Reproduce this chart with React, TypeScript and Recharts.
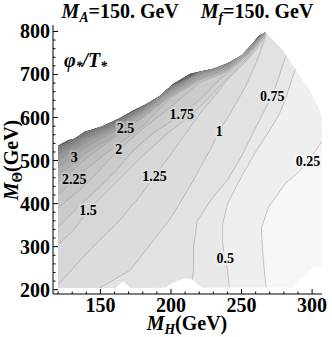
import React from 'react';
import { ScatterChart, Scatter, XAxis, YAxis } from 'recharts';

type Pt = [number, number]; // [M_H, M_Theta] in GeV

const xTicks = [120, 130, 140, 150, 160, 170, 180, 190, 200, 210, 220, 230, 240, 250, 260, 270, 280, 290, 300];
const yTicks = [200, 220, 240, 260, 280, 300, 320, 340, 360, 380, 400, 420, 440, 460, 480, 500, 520, 540, 560, 580, 600, 620, 640, 660, 680, 700, 720, 740, 760, 780, 800];

// outline of the scanned parameter region
const regionOutline: Pt[] = [
  [120, 204], [161, 204], [163, 212], [166, 219], [169, 212], [171, 204], [196, 205], [200, 214], [205, 222],
  [210, 227], [215, 224], [219, 212], [222, 205], [286, 205], [289, 213], [294, 232], [299, 247], [303, 253],
  [307, 256], [307, 590], [305.5, 615], [298.3, 662], [288.6, 710], [279, 757], [266.8, 798], [262, 789],
  [257.2, 769], [250, 745], [240.2, 726], [230.6, 714], [213.7, 702], [201.6, 678], [192, 650], [182.3, 631],
  [172.6, 615], [163, 597], [151, 579], [139, 567], [131.5, 551], [127, 547], [121, 536], [120, 534],
];

// contour lines of phi*/T*
const c025: Pt[] = [[268, 185], [266, 250], [265, 288], [264, 343], [269, 391], [281, 447], [291, 475], [297, 499], [303, 525], [312, 570]];
const c050: Pt[] = [[242, 185], [240, 248], [238, 272], [236.6, 312], [236.6, 351], [240, 399], [250, 463], [259.6, 518], [269, 566], [276.5, 606], [281.4, 645], [286, 693], [291, 735]];
const c075: Pt[] = [[213.7, 185], [216, 248], [216, 296], [218.5, 359], [228, 407], [240, 455], [250, 510], [259.6, 574], [266, 615], [271.7, 650], [276, 690], [280, 730], [285, 775]];
const c100: Pt[] = [[142, 185], [150, 205], [171, 245], [187, 312], [201.6, 375], [216, 455], [228, 527], [234.2, 568], [242.7, 614], [252.4, 669], [258, 710], [262, 740], [265, 770], [268, 800]];
const c125: Pt[] = [[113, 190], [120, 212], [126.4, 235], [143.6, 296], [163, 359], [177.5, 415], [188.3, 464], [199, 510], [211, 566], [222, 615], [232, 655], [242, 695], [250, 720], [258, 748], [265, 780], [268, 802]];
const c150: Pt[] = [[115, 290], [130, 335], [141.2, 383], [152, 420], [163, 455], [175, 495], [185, 526], [198, 565], [214.9, 607], [228, 650], [240, 692], [255, 741], [265, 785], [268, 803]];
const c175: Pt[] = [[115, 330], [120, 345], [135, 395], [150, 440], [162, 480], [174, 526], [188, 565], [200, 591], [207.6, 607], [220, 640], [235, 690], [240, 702], [255, 746], [265, 787], [268, 804]];
const c200: Pt[] = [[115, 377], [120, 390], [140, 445], [150, 480], [163, 526], [180, 574], [200, 625], [220, 681], [240, 707], [255, 749], [265, 789], [268, 805]];
const c225: Pt[] = [[115, 412], [120, 420], [131.5, 455], [140, 480], [160, 532], [180, 580], [200, 647], [220, 686], [240, 710], [255, 751], [265, 790], [268, 805]];
const c250: Pt[] = [[115, 435], [120, 448], [140, 505], [160, 554], [167.8, 574], [180, 600], [200, 651], [220, 689], [240, 712], [255, 752], [265, 791], [268, 806]];
const c275: Pt[] = [[115, 452], [120, 464], [140, 518], [160, 558], [180, 601], [200, 653], [220, 691], [240, 713.5], [255, 753.5], [265, 791.5], [268, 806]];
const c300: Pt[] = [[115, 473], [120, 484], [131.5, 507], [140, 532], [160, 567], [180, 607], [200, 657], [220, 694], [240, 716], [255, 755], [265, 792], [268, 806]];
const c325: Pt[] = [[115, 490], [120, 500], [140, 542], [160, 573], [180, 612], [200, 661], [220, 697], [240, 718], [255, 756.5], [265, 792.5], [268, 806]];
const c350: Pt[] = [[115, 503], [120, 512], [140, 550], [160, 578], [180, 616], [200, 664], [220, 699.5], [240, 720], [255, 758], [265, 793], [268, 806]];
const c375: Pt[] = [[115, 512], [120, 520], [140, 556], [160, 582], [180, 619], [200, 666.5], [220, 701.5], [240, 721.5], [255, 759], [265, 793.5], [268, 806]];
const c400: Pt[] = [[115, 519], [120, 526], [140, 561], [160, 586], [180, 622], [200, 669], [220, 703.5], [240, 723], [255, 760], [265, 794], [268, 806]];
const c450: Pt[] = [[115, 525], [120, 531], [140, 565], [160, 589.5], [180, 625], [200, 671], [220, 705.5], [240, 724.5], [255, 761], [265, 794.5], [268, 806]];

const levels = [0.25, 0.5, 0.75, 1, 1.25, 1.5, 1.75, 2, 2.25, 2.5, 2.75, 3, 3.25, 3.5, 3.75, 4, 4.5];
const levelLines = [c025, c050, c075, c100, c125, c150, c175, c200, c225, c250, c275, c300, c325, c350, c375, c400, c450];

// [level, M_H, M_Theta]
const contourLabels: [number, number, number][] = [
  [0.25, 297, 499], [0.5, 238.5, 272], [0.75, 271.7, 650], [1, 234.2, 568], [1.25, 188.3, 464], [1.5, 141.2, 383],
  [1.75, 207.6, 607], [2, 163, 526], [2.25, 131.5, 455], [2.5, 167.8, 574], [3, 131.5, 507],
];

const BASE_SHADE = '#f6f6f6';
const shades = ['#efefef', '#e8e8e8', '#e2e2e2', '#dcdcdc', '#d7d7d7', '#d1d1d1', '#cbcbcb', '#c5c5c5', '#bebebe', '#b6b6b6', '#adadad', '#a3a3a3', '#979797', '#8a8a8a', '#7c7c7c', '#6e6e6e', '#606060'];

const X_DOMAIN: [number, number] = [116.4, 307];
const Y_DOMAIN: [number, number] = [190, 815];
const FAR_LEFT = 0;
const FAR_UP = 1100;
const FONT = "'Liberation Serif', 'Times New Roman', serif";

const toXY = (pts: Pt[]) => pts.map(([x, y]) => ({ x, y }));
const ptsStr = (pts: { x: number; y: number }[]) => pts.map((p) => `${p.x},${p.y}`).join(' ');

// region above-left of a contour, closed far outside the plot (then clipped to the region)
const upperSide = (pts: Pt[]): Pt[] => {
  const first = pts[0];
  const last = pts[pts.length - 1];
  return [...pts, [last[0], FAR_UP], [FAR_LEFT, FAR_UP], [FAR_LEFT, first[1]]];
};

const noDot = () => <g />;

const regionLine = (lp: any) => (
  <g>
    <defs>
      <clipPath id="mregion">
        <polygon points={ptsStr(lp.points)} />
      </clipPath>
    </defs>
    <polygon points={ptsStr(lp.points)} fill={BASE_SHADE} stroke="none" />
  </g>
);

const fillLine = (fill: string) => (lp: any) => (
  <polygon points={ptsStr(lp.points)} fill={fill} stroke="none" clipPath="url(#mregion)" />
);

const contourLine = (lp: any) => (
  <polyline points={ptsStr(lp.points)} fill="none" stroke="#9a9a9a" strokeWidth={0.55} clipPath="url(#mregion)" />
);

const labelShape = (p: any) => (
  <text
    x={p.cx}
    y={p.cy}
    textAnchor="middle"
    dominantBaseline="central"
    fontFamily={FONT}
    fontWeight="bold"
    fontSize={14}
    fill="#000"
    stroke={p.payload.bg}
    strokeWidth={4}
    style={{ paintOrder: 'stroke' }}
  >
    {p.payload.t}
  </text>
);

const BottomTick = ({ x, y, payload }: any) => {
  const major = payload.value % 50 === 0;
  return (
    <g>
      <line x1={x} x2={x} y1={y} y2={y - (major ? 5 : 2.5)} stroke="#000" />
      {major && (
        <text x={x} y={y + 18} textAnchor="middle" fontFamily={FONT} fontWeight="bold" fontSize={20} fill="#000">
          {payload.value}
        </text>
      )}
    </g>
  );
};

const TopTick = ({ x, y, payload }: any) => {
  const major = payload.value % 50 === 0;
  return <line x1={x} x2={x} y1={y} y2={y + (major ? 5 : 2.5)} stroke="#000" />;
};

const LeftTick = ({ x, y, payload }: any) => {
  const major = payload.value % 100 === 0;
  return (
    <g>
      <line x1={x} x2={x + (major ? 5 : 2.5)} y1={y} y2={y} stroke="#000" />
      {major && (
        <text x={x - 3} y={y + 7} textAnchor="end" fontFamily={FONT} fontWeight="bold" fontSize={20} fill="#000">
          {payload.value}
        </text>
      )}
    </g>
  );
};

const RightTick = ({ x, y, payload }: any) => {
  const major = payload.value % 100 === 0;
  return <line x1={x} x2={x - (major ? 5 : 2.5)} y1={y} y2={y} stroke="#000" />;
};

const Sub = ({ children, italic = true }: { children: React.ReactNode; italic?: boolean }) => (
  <span style={{ fontSize: '0.68em', position: 'relative', top: '0.32em', fontStyle: italic ? 'italic' : 'normal' }}>{children}</span>
);

const App: React.FC = () => {
  const labelData = contourLabels.map(([lv, x, y]) => {
    const i = levels.indexOf(lv);
    return { x, y, t: String(lv), bg: i > 0 ? shades[i - 1] : BASE_SHADE };
  });

  return (
    <div style={{ position: 'absolute', left: 0, top: 0, width: 332, height: 337, background: '#fff', fontFamily: FONT }}>
      <ScatterChart width={332} height={337} margin={{ top: 25, right: 10, bottom: 0, left: 0 }}>
        <XAxis
          type="number"
          dataKey="x"
          domain={X_DOMAIN}
          allowDataOverflow
          ticks={xTicks}
          interval={0}
          tickSize={0}
          tickMargin={0}
          tickLine={false}
          axisLine={{ stroke: '#000' }}
          height={43}
          tick={BottomTick}
        />
        <XAxis
          xAxisId="top"
          orientation="top"
          type="number"
          dataKey="x"
          domain={X_DOMAIN}
          allowDataOverflow
          ticks={xTicks}
          interval={0}
          tickSize={0}
          tickMargin={0}
          tickLine={false}
          axisLine={{ stroke: '#000' }}
          height={0}
          tick={TopTick}
        />
        <YAxis
          type="number"
          dataKey="y"
          domain={Y_DOMAIN}
          allowDataOverflow
          ticks={yTicks}
          interval={0}
          tickSize={0}
          tickMargin={0}
          tickLine={false}
          axisLine={{ stroke: '#000' }}
          width={53}
          tick={LeftTick}
        />
        <YAxis
          yAxisId="right"
          orientation="right"
          type="number"
          dataKey="y"
          domain={Y_DOMAIN}
          allowDataOverflow
          ticks={yTicks}
          interval={0}
          tickSize={0}
          tickMargin={0}
          tickLine={false}
          axisLine={{ stroke: '#000' }}
          width={0}
          tick={RightTick}
        />

        <Scatter data={toXY(regionOutline)} line={regionLine} shape={noDot} isAnimationActive={false} />
        {levelLines.map((pts, i) => (
          <Scatter
            key={`fill-${levels[i]}`}
            data={toXY(upperSide(pts))}
            line={fillLine(shades[i])}
            shape={noDot}
            isAnimationActive={false}
          />
        ))}
        {levelLines.map((pts, i) => (
          <Scatter
            key={`line-${levels[i]}`}
            data={toXY(pts)}
            line={contourLine}
            shape={noDot}
            isAnimationActive={false}
          />
        ))}
        <Scatter data={labelData} shape={labelShape} isAnimationActive={false} />
      </ScatterChart>

      <div
        style={{
          position: 'absolute', left: 53, width: 269, top: 1, textAlign: 'center',
          fontWeight: 'bold', fontSize: 20, lineHeight: '20px', whiteSpace: 'nowrap',
        }}
      >
        <i>M</i><Sub>A</Sub>=150. GeV
        <span style={{ display: 'inline-block', width: 22 }} />
        <i>M</i><Sub>f</Sub>=150. GeV
      </div>

      <div
        style={{
          position: 'absolute', left: 64, top: 50, fontWeight: 'bold', fontStyle: 'italic',
          fontSize: 20, lineHeight: '20px', whiteSpace: 'nowrap',
        }}
      >
        φ<Sub>*</Sub>/T<Sub>*</Sub>
      </div>

      <div
        style={{
          position: 'absolute', left: 12, top: 160, transform: 'translate(-50%, -50%) rotate(-90deg)',
          fontWeight: 'bold', fontSize: 20, lineHeight: '20px', whiteSpace: 'nowrap',
        }}
      >
        <i>M</i><Sub italic={false}>Θ</Sub>(GeV)
      </div>

      <div
        style={{
          position: 'absolute', left: 187, top: 324, transform: 'translate(-50%, -50%)',
          fontWeight: 'bold', fontSize: 20, lineHeight: '20px', whiteSpace: 'nowrap',
        }}
      >
        <i>M</i><Sub>H</Sub>(GeV)
      </div>
    </div>
  );
};

export default App;
